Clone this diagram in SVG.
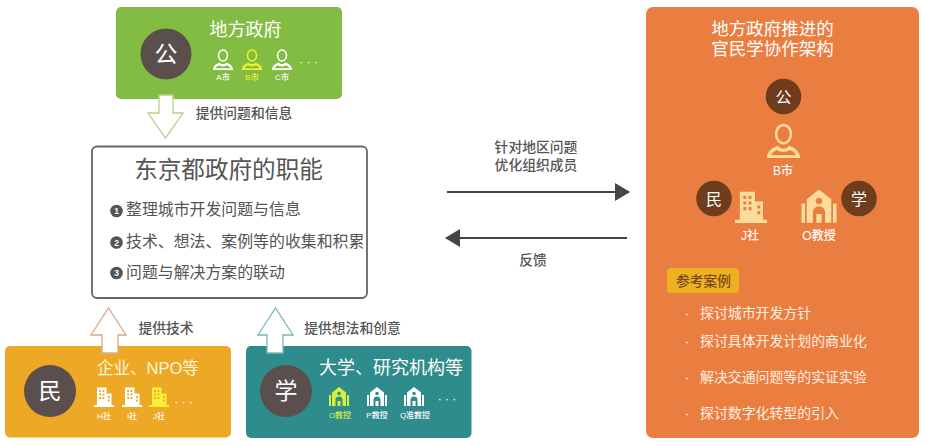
<svg xmlns="http://www.w3.org/2000/svg" width="932" height="446" viewBox="0 0 932 446">
<style>
text{font-family:"Liberation Sans","Noto Sans CJK SC",sans-serif;text-anchor:middle}
.w{fill:#fff}.d{fill:#555}.b{fill:#5a4f4d}.br{fill:#6f3d1d}
.lbl{font-size:13.8px;fill:#555;font-weight:500}
.item{font-size:15.9px;fill:#555;text-anchor:start}
.num{font-size:8.500px;fill:#fff;font-weight:700}
.case{font-size:13.9px;fill:#fdeee0;text-anchor:start}
.sm{font-size:8px;fill:#fff;font-weight:500}
.head{font-size:18px;fill:#fff}
.dots{font-size:12px;fill:#fff}
.seal{font-size:16px;fill:#fff}
.mid{font-size:12px;fill:#fff;font-weight:500}
.big{font-size:23px;fill:#fff}
.arrow{stroke:#444;stroke-width:2;fill:none}
.bul{font-size:13px;fill:#fff}
</style>
<defs>
<marker id="ah" markerWidth="16" markerHeight="18" refX="14" refY="9" orient="auto" markerUnits="userSpaceOnUse"><path d="M0 0L15 9L0 18Z" fill="#444"/></marker>
<g id="person"><ellipse cx="0" cy="-4.500" rx="4.500" ry="5.500" fill="none" stroke="currentColor" stroke-width="1.500"/><path fill-rule="evenodd" d="M-10 10C-10 5.500-6.500 3.500-3.200 2.500C-2 4.800 2 4.800 3.200 2.500C6.500 3.500 10 5.500 10 10ZM-7.500 8.300H7.500C7 7 5.500 5.800 4 5.200C2 6.800-2 6.800-4 5.200C-5.500 5.800-7 7-7.500 8.300Z" fill="currentColor"/></g>
<path id="bldg" fill-rule="evenodd" fill="currentColor" d="M-7-9.500H2.500V-3.500H7.500V8H10V10H-10V8H-7ZM-4.800-7v2h1.800v-2zM-1.500-7v2h1.800v-2zM-4.800-3.500v2h1.800v-2zM-1.500-3.500v2h1.800v-2zM-4.800 0v2h1.800v-2zM-1.500 0v2h1.800v-2zM4-1v2h1.800v-2zM4 2.500v2h1.800v-2z"/>
<path id="school" fill-rule="evenodd" fill="currentColor" d="M0-10L7-4.500V9H3.500V3A3.500 3.500 0 0 0-3.500 3V9H-7V-4.500ZM-10-2H-8V9H-10ZM8-2H10V9H8ZM-1.800-3.500A1.800 1.800 0 0 0 1.800-3.500A1.800 1.800 0 0 0-1.800-3.500ZM-1.500 4H1.500V9H-1.500Z"/>
</defs>

<g id="connectors">
<path d="M447 192H629" class="arrow" marker-end="url(#ah)"/>
<path d="M627 238H446" class="arrow" marker-end="url(#ah)"/>
</g>

<g id="node-gov">
<rect x="116" y="7" width="226" height="92" rx="5" fill="#82bc42"/>
<circle cx="166" cy="54" r="25.500" class="b"/>
<text x="166" y="62" class="big">公</text>
<text x="245.500" y="36" class="head">地方政府</text>
<use href="#person" x="223" y="60" color="#fff"/>
<use href="#person" x="252" y="60" color="#eef22e"/>
<use href="#person" x="282" y="60" color="#fff"/>
<text x="223" y="80" class="sm">A市</text>
<text x="252" y="80" class="sm" style="fill:#eef22e">B市</text>
<text x="282" y="80" class="sm">C市</text>
<text x="308.500" y="66" class="dots">· · ·</text>
</g>
<g id="arrow-gov"><path d="M159 95H173V113H183L165.500 138L148 113H159Z" fill="#fff" stroke="#b5d08c" stroke-width="1.300"/></g>
<text x="244" y="118" class="lbl">提供问题和信息</text>

<g id="node-tokyo">
<rect x="92" y="146.500" width="275" height="151.500" rx="5" fill="#fff" stroke="#666" stroke-width="1.800"/>
<text x="228.500" y="178" style="font-size:23.600px;fill:#555">东京都政府的职能</text>
<circle cx="116.500" cy="211" r="6.300" class="d"/><text x="116.500" y="214" class="num">1</text>
<text x="126" y="215" class="item">整理城市开发问题与信息</text>
<circle cx="116.500" cy="242.500" r="6.300" class="d"/><text x="116.500" y="245.500" class="num">2</text>
<text x="126" y="246.500" class="item">技术、想法、案例等的收集和积累</text>
<circle cx="116.500" cy="273" r="6.300" class="d"/><text x="116.500" y="276" class="num">3</text>
<text x="126" y="277.500" class="item">问题与解决方案的联动</text>
</g>

<g id="node-min">
<rect x="5" y="346" width="226" height="91.500" rx="5" fill="#eda926"/>
<circle cx="50" cy="391" r="26" class="b"/>
<text x="50" y="399" class="big">民</text>
<text x="148" y="374" style="font-size:16.500px;fill:#fdf3d8">企业、NPO等</text>
<use href="#bldg" x="104" y="397" color="#fff"/>
<use href="#bldg" x="132" y="397" color="#fff"/>
<use href="#bldg" x="159" y="397" color="#ffef3a"/>
<text x="104" y="419" class="sm">H社</text>
<text x="132" y="419" class="sm">I社</text>
<text x="159" y="419" class="sm">J社</text>
<text x="183.500" y="406" class="dots">· · ·</text>
</g>
<g id="arrow-min"><path d="M102 353V335H91L108.500 308L126 335H118V353Z" fill="#fff" stroke="#d9a98c" stroke-width="1.300"/></g>
<text x="166" y="333" class="lbl">提供技术</text>

<g id="node-gaku">
<rect x="246" y="346" width="225.500" height="92" rx="5" fill="#2f8c8c"/>
<circle cx="286" cy="391" r="26" class="b"/>
<text x="286" y="399" class="big">学</text>
<text x="391" y="374" class="head">大学、研究机构等</text>
<use href="#school" x="339" y="397" color="#d8ee3c"/>
<use href="#school" x="377" y="397" color="#fff"/>
<use href="#school" x="414" y="397" color="#fff"/>
<text x="340" y="418" class="sm" style="fill:#d8ee3c">O教授</text>
<text x="377" y="418" class="sm">P教授</text>
<text x="415" y="418" class="sm">Q准教授</text>
<text x="447" y="403" class="dots">· · ·</text>
</g>
<g id="arrow-gaku"><path d="M267 353V335H258L275.500 308L293 335H283V353Z" fill="#fff" stroke="#7fb8b8" stroke-width="1.300"/></g>
<text x="352.500" y="333" class="lbl">提供想法和创意</text>

<text x="536" y="152" class="lbl">针对地区问题</text>
<text x="536" y="170" class="lbl">优化组织成员</text>
<text x="533" y="265" class="lbl">反馈</text>

<g id="node-arch">
<rect x="646" y="7" width="273" height="431" rx="7" fill="#ea7e41"/>
<text x="772.500" y="34.500" class="head" style="font-size:17.500px">地方政府推进的</text>
<text x="772.500" y="54.500" class="head" style="font-size:17.500px">官民学协作架构</text>
<circle cx="783.500" cy="96.500" r="17.800" class="br"/>
<text x="783.500" y="102.500" class="seal">公</text>
<use href="#person" transform="translate(783.500 141.500) scale(1.650)" color="#fbdc9b"/>
<text x="783" y="175" class="mid">B市</text>
<circle cx="714" cy="198.500" r="17.800" class="br"/>
<text x="714" y="204.500" class="seal">民</text>
<circle cx="859" cy="198.500" r="17.800" class="br"/>
<text x="859" y="204.500" class="seal">学</text>
<use href="#bldg" transform="translate(751 207) scale(1.600)" color="#fbdc9b"/>
<use href="#school" transform="translate(819 207) scale(1.750)" color="#fbdc9b"/>
<text x="750" y="240" class="mid">J社</text>
<text x="819" y="240" class="mid">O教授</text>
<rect x="667" y="268" width="72" height="25" rx="4" fill="#edb022"/>
<text x="703.500" y="286" style="font-size:13.700px;fill:#7a4a1c;font-weight:500">参考案例</text>
<text x="687" y="318" class="bul">·</text>
<text x="700" y="318" class="case">探讨城市开发方针</text>
<text x="687" y="346" class="bul">·</text>
<text x="700" y="346" class="case">探讨具体开发计划的商业化</text>
<text x="687" y="382" class="bul">·</text>
<text x="700" y="382" class="case">解决交通问题等的实证实验</text>
<text x="687" y="418" class="bul">·</text>
<text x="700" y="418" class="case">探讨数字化转型的引入</text>
</g>
</svg>
